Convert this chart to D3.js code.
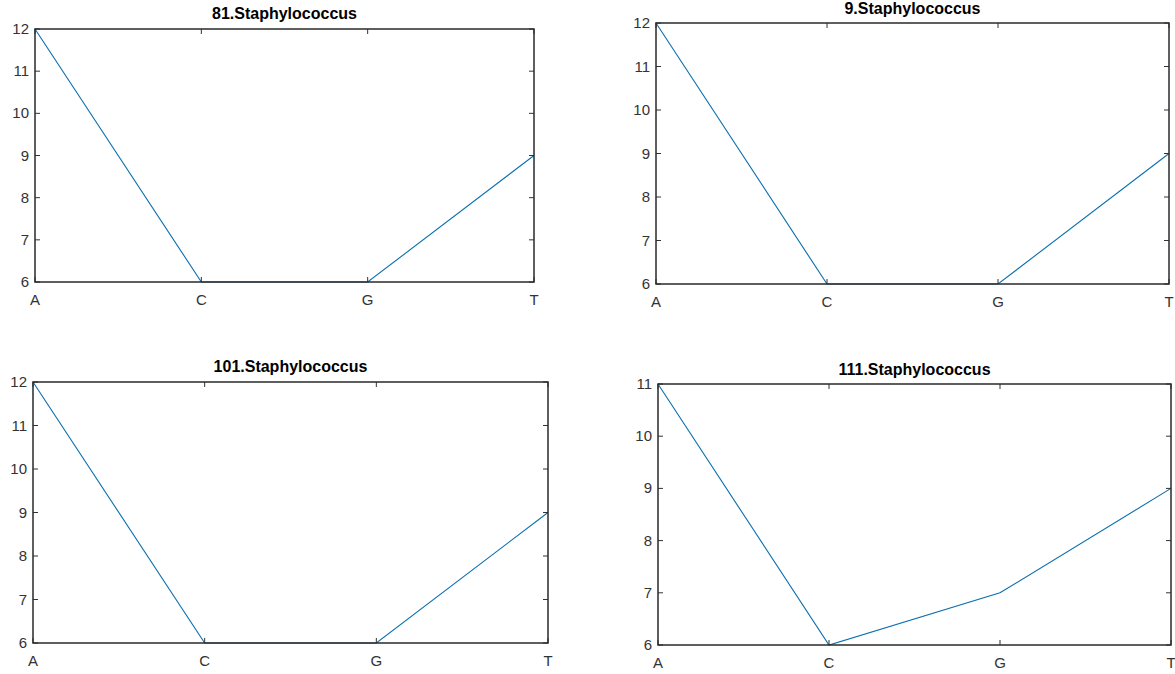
<!DOCTYPE html>
<html><head><meta charset="utf-8">
<script src="https://cdn.jsdelivr.net/npm/d3@7"></script>
<style>body{margin:0;background:#fff;} text{font-family:"Liberation Sans",Arial,sans-serif;}</style>
</head><body>
<svg id="c" width="1175" height="674"></svg>
<script>
const bases = ["A","C","G","T"];
const titles = ["81.Staphylococcus","9.Staphylococcus","101.Staphylococcus","111.Staphylococcus"];
const counts81 = [12,6,6,9];
const counts9 = [12,6,6,9];
const counts101 = [12,6,6,9];
const counts111 = [11,6,7,9];
const yTicks81 = [6,7,8,9,10,11,12];
const yTicks9 = [6,7,8,9,10,11,12];
const yTicks101 = [6,7,8,9,10,11,12];
const yTicks111 = [6,7,8,9,10,11];

const panels = [
  {title:titles[0], data:counts81, ticks:yTicks81, box:[35,29,534,282], ty:19},
  {title:titles[1], data:counts9, ticks:yTicks9, box:[656,23,1169,284], ty:14},
  {title:titles[2], data:counts101, ticks:yTicks101, box:[33,382,548,643], ty:372},
  {title:titles[3], data:counts111, ticks:yTicks111, box:[658,384,1171,645], ty:375}
];
const svg = d3.select("#c");
panels.forEach(p=>{
  const [x0,y0,x1,y1]=p.box;
  const x = d3.scalePoint().domain(bases).range([x0,x1]);
  const y = d3.scaleLinear().domain([d3.min(p.ticks), d3.max(p.ticks)]).range([y1,y0]);
  const g = svg.append("g");
  const tl = 5;
  g.append("path").datum(p.data)
    .attr("d", d3.line().x((d,i)=>x(bases[i])).y(d=>y(d)))
    .attr("fill","none").attr("stroke","#0a6fb0").attr("stroke-width",1.1);
  bases.forEach(b=>{
    g.append("line").attr("x1",x(b)).attr("x2",x(b)).attr("y1",y1).attr("y2",y1-tl).attr("stroke","#333");
    g.append("line").attr("x1",x(b)).attr("x2",x(b)).attr("y1",y0).attr("y2",y0+tl).attr("stroke","#333");
    g.append("text").attr("x",x(b)).attr("y",y1+23).attr("text-anchor","middle")
      .attr("font-size",15).attr("fill","#333").text(b);
  });
  p.ticks.forEach(t=>{
    g.append("line").attr("x1",x0).attr("x2",x0+tl).attr("y1",y(t)).attr("y2",y(t)).attr("stroke","#333");
    g.append("line").attr("x1",x1).attr("x2",x1-tl).attr("y1",y(t)).attr("y2",y(t)).attr("stroke","#333");
    g.append("text").attr("x",x0-6).attr("y",y(t)+5).attr("text-anchor","end")
      .attr("font-size",15).attr("fill","#333").text(t);
  });
  g.append("rect").attr("x",x0).attr("y",y0).attr("width",x1-x0).attr("height",y1-y0)
    .attr("fill","none").attr("stroke","#2a2a2a").attr("stroke-width",1.5);
  g.append("text").attr("x",(x0+x1)/2).attr("y",p.ty).attr("text-anchor","middle")
    .attr("font-size",16).attr("font-weight","bold").attr("fill","#000").text(p.title);
});
</script>
</body></html>
